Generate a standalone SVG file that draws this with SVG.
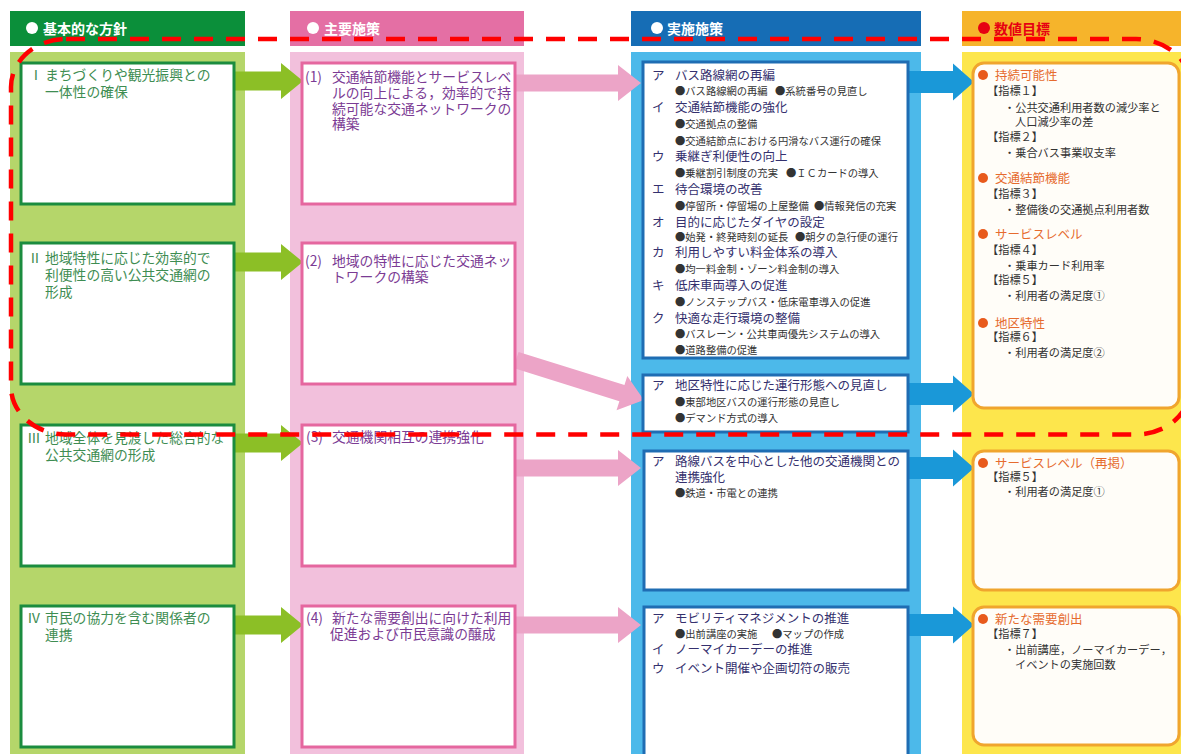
<svg xmlns="http://www.w3.org/2000/svg" width="1181" height="754" viewBox="0 0 1181 754">
<style>
text{font-family:"Noto Sans CJK JP","Noto Sans CJK SC",sans-serif}
.hd{font-size:14px;font-weight:bold;fill:#fff}
.gbox{fill:#fff;stroke:#1b8c3f;stroke-width:3}
.pbox{fill:#fff;stroke:#e5679f;stroke-width:3}
.bbox{fill:#fff;stroke:#1f6db3;stroke-width:3}
.ybox{fill:#fffdf8;stroke:#f0a52e;stroke-width:3}
.gt{font-size:13.8px;fill:#3e8d52}
.pt{font-size:13.8px;fill:#7b3b94}
.bt{font-size:12.5px;fill:#34306e}
.bs{font-size:10.3px;fill:#333}
.yt{font-size:11.2px;fill:#333}
.oh{font-size:12.5px;fill:#e66b2e}
.dot{fill:#e85a1c}
.ga{fill:#8cbf26}
.pa{fill:#eca4c7}
.ba{fill:#1a98d8}
</style>
<rect width="1181" height="754" fill="#fff"/>
<g id="col-headers">
<rect x="10" y="11" width="235" height="35" fill="#0b8f3a"/>
<circle cx="32" cy="28" r="6" fill="#fff"/>
<text class="hd" x="43" y="33.5">基本的な方針</text>
<rect x="290" y="11" width="234" height="35" fill="#e46fa4"/>
<circle cx="313" cy="28" r="6" fill="#fff"/>
<text class="hd" x="324" y="33.5">主要施策</text>
<rect x="631" y="11" width="290" height="35" fill="#166db5"/>
<circle cx="657" cy="28" r="6" fill="#fff"/>
<text class="hd" x="667" y="33.5">実施施策</text>
<rect x="962" y="11" width="219" height="35" fill="#f6b42b"/>
<circle cx="984" cy="28" r="6" fill="#e60012"/>
<text class="hd" x="994" y="33.5" style="fill:#e60012">数値目標</text>
</g>
<g id="col-bgs">
<rect x="10" y="52" width="235" height="702" fill="#b5d66a"/>
<rect x="290" y="52" width="234" height="702" fill="#f2c0dc"/>
<rect x="631" y="52" width="290" height="702" fill="#4cb9ea"/>
<rect x="962" y="52" width="219" height="702" fill="#fde64c"/>
</g>
<g id="connectors">
<polygon class="ga" points="234,71.5 281,71.5 281,63 303,81 281,99 281,90.5 234,90.5"/>
<polygon class="ga" points="234,252.5 281,252.5 281,244 303,262 281,280 281,271.5 234,271.5"/>
<polygon class="ga" points="234,433.5 281,433.5 281,425 303,443 281,461 281,452.5 234,452.5"/>
<polygon class="ga" points="234,615.5 281,615.5 281,607 303,625 281,643 281,634.5 234,634.5"/>
<polygon class="pa" points="515,74.5 618,74.5 618,65 641,83 618,101 618,91.5 515,91.5"/>
<polygon class="pa" points="515,459.5 618,459.5 618,450 641,468 618,486 618,476.5 515,476.5"/>
<polygon class="pa" points="515,616.5 618,616.5 618,607 641,625 618,643 618,633.5 515,633.5"/>
<polygon class="pa" transform="translate(516,360) rotate(17.4)" points="0,-8.5 111,-8.5 111,-18 134,0 111,18 111,8.5 0,8.5"/>
<polygon class="ba" points="908,71 953,71 953,63.5 974,82 953,100.5 953,93 908,93"/>
<polygon class="ba" points="908,383 953,383 953,375.5 974,394 953,412.5 953,405 908,405"/>
<polygon class="ba" points="908,457 953,457 953,449.5 974,468 953,486.5 953,479 908,479"/>
<polygon class="ba" points="908,614 953,614 953,606.5 974,625 953,643.5 953,636 908,636"/>
</g>
<g id="policy-1">
<rect class="gbox" x="21" y="63" width="213" height="141"/>
<text class="gt"><tspan x="29" y="80">Ⅰ</tspan><tspan x="45" y="80">まちづくりや観光振興との</tspan><tspan x="45" y="97">一体性の確保</tspan></text>
</g>
<g id="policy-2">
<rect class="gbox" x="21" y="243" width="213" height="141"/>
<text class="gt"><tspan x="28" y="263">Ⅱ</tspan><tspan x="45" y="263">地域特性に応じた効率的で</tspan><tspan x="45" y="280">利便性の高い公共交通網の</tspan><tspan x="45" y="297">形成</tspan></text>
</g>
<g id="policy-3">
<rect class="gbox" x="21" y="425" width="213" height="141"/>
<text class="gt"><tspan x="27" y="443">Ⅲ</tspan><tspan x="45" y="443">地域全体を見渡した総合的な</tspan><tspan x="45" y="460">公共交通網の形成</tspan></text>
</g>
<g id="policy-4">
<rect class="gbox" x="21" y="606" width="213" height="141"/>
<text class="gt"><tspan x="27" y="623">Ⅳ</tspan><tspan x="45" y="623">市民の協力を含む関係者の</tspan><tspan x="45" y="640">連携</tspan></text>
</g>
<g id="measure-1">
<rect class="pbox" x="302" y="63" width="213" height="141"/>
<text class="pt"><tspan x="305" y="82">(1)</tspan><tspan x="332" y="82">交通結節機能とサービスレベ</tspan><tspan x="332" y="98">ルの向上による，効率的で持</tspan><tspan x="332" y="113.5">続可能な交通ネットワークの</tspan><tspan x="332" y="129">構築</tspan></text>
</g>
<g id="measure-2">
<rect class="pbox" x="302" y="243" width="213" height="141"/>
<text class="pt"><tspan x="305" y="266">(2)</tspan><tspan x="332" y="266">地域の特性に応じた交通ネッ</tspan><tspan x="332" y="281.5">トワークの構築</tspan></text>
</g>
<g id="measure-3">
<rect class="pbox" x="302" y="425" width="213" height="141"/>
<text class="pt"><tspan x="306" y="442">(3)</tspan><tspan x="332" y="442">交通機関相互の連携強化</tspan></text>
</g>
<g id="measure-4">
<rect class="pbox" x="302" y="606" width="213" height="141"/>
<text class="pt"><tspan x="306" y="623">(4)</tspan><tspan x="332" y="623">新たな需要創出に向けた利用</tspan><tspan x="330" y="638.5">促進および市民意識の醸成</tspan></text>
</g>
<g id="action-1">
<rect class="bbox" x="643" y="62" width="265" height="296"/>
<text class="bt"><tspan x="652" y="80">ア</tspan><tspan x="675" y="80">バス路線網の再編</tspan><tspan class="bs" x="675" y="95">●バス路線網の再編</tspan><tspan class="bs" x="775" y="95">●系統番号の見直し</tspan><tspan x="652" y="112">イ</tspan><tspan x="675" y="112">交通結節機能の強化</tspan><tspan class="bs" x="675" y="128">●交通拠点の整備</tspan><tspan class="bs" x="675" y="144.5">●交通結節点における円滑なバス運行の確保</tspan><tspan x="652" y="161">ウ</tspan><tspan x="675" y="161">乗継ぎ利便性の向上</tspan><tspan class="bs" x="675" y="177">●乗継割引制度の充実</tspan><tspan class="bs" x="786" y="177">●ＩＣカードの導入</tspan><tspan x="652" y="193.5">エ</tspan><tspan x="675" y="193.5">待合環境の改善</tspan><tspan class="bs" x="675" y="209.5">●停留所・停留場の上屋整備</tspan><tspan class="bs" x="814" y="209.5">●情報発信の充実</tspan><tspan x="652" y="226.5">オ</tspan><tspan x="675" y="226.5">目的に応じたダイヤの設定</tspan><tspan class="bs" x="675" y="240.5">●始発・終発時刻の延長</tspan><tspan class="bs" x="795" y="240.5">●朝夕の急行便の運行</tspan><tspan x="652" y="257">カ</tspan><tspan x="675" y="257">利用しやすい料金体系の導入</tspan><tspan class="bs" x="675" y="273">●均一料金制・ゾーン料金制の導入</tspan><tspan x="652" y="290">キ</tspan><tspan x="675" y="290">低床車両導入の促進</tspan><tspan class="bs" x="675" y="305.5">●ノンステップバス・低床電車導入の促進</tspan><tspan x="652" y="322.5">ク</tspan><tspan x="675" y="322.5">快適な走行環境の整備</tspan><tspan class="bs" x="675" y="337.5">●バスレーン・公共車両優先システムの導入</tspan><tspan class="bs" x="675" y="353.5">●道路整備の促進</tspan></text>
</g>
<g id="action-2">
<rect class="bbox" x="643" y="375" width="265" height="57"/>
<text class="bt"><tspan x="652" y="390">ア</tspan><tspan x="675" y="390">地区特性に応じた運行形態への見直し</tspan><tspan class="bs" x="675" y="406">●東部地区バスの運行形態の見直し</tspan><tspan class="bs" x="675" y="422">●デマンド方式の導入</tspan></text>
</g>
<g id="action-3">
<rect class="bbox" x="644" y="451" width="264" height="139"/>
<text class="bt"><tspan x="652" y="466">ア</tspan><tspan x="675" y="466">路線バスを中心とした他の交通機関との</tspan><tspan x="675" y="482">連携強化</tspan><tspan class="bs" x="675" y="496.5">●鉄道・市電との連携</tspan></text>
</g>
<g id="action-4">
<rect class="bbox" x="644" y="607" width="264" height="155"/>
<text class="bt"><tspan x="652" y="623">ア</tspan><tspan x="675" y="623">モビリティマネジメントの推進</tspan><tspan class="bs" x="675" y="637.5">●出前講座の実施</tspan><tspan class="bs" x="772" y="637.5">●マップの作成</tspan><tspan x="652" y="654">イ</tspan><tspan x="675" y="654">ノーマイカーデーの推進</tspan><tspan x="652" y="673">ウ</tspan><tspan x="675" y="673">イベント開催や企画切符の販売</tspan></text>
</g>
<g id="target-1">
<rect class="ybox" x="973" y="63" width="206" height="345" rx="11"/>
<circle class="dot" cx="983" cy="75" r="5"/>
<circle class="dot" cx="983" cy="178" r="5"/>
<circle class="dot" cx="983" cy="234" r="5"/>
<circle class="dot" cx="983" cy="323" r="5"/>
<text class="yt"><tspan class="oh" x="995" y="79.5">持続可能性</tspan><tspan x="987" y="95">【指標１】</tspan><tspan x="1004" y="112">・公共交通利用者数の減少率と</tspan><tspan x="1015" y="125.5">人口減少率の差</tspan><tspan x="987" y="140.5">【指標２】</tspan><tspan x="1004" y="156.5">・乗合バス事業収支率</tspan><tspan class="oh" x="995" y="182.5">交通結節機能</tspan><tspan x="987" y="197.5">【指標３】</tspan><tspan x="1004" y="213.5">・整備後の交通拠点利用者数</tspan><tspan class="oh" x="995" y="238.5">サービスレベル</tspan><tspan x="987" y="253.5">【指標４】</tspan><tspan x="1004" y="269.5">・乗車カード利用率</tspan><tspan x="987" y="284">【指標５】</tspan><tspan x="1004" y="300">・利用者の満足度①</tspan><tspan class="oh" x="995" y="327.5">地区特性</tspan><tspan x="987" y="341">【指標６】</tspan><tspan x="1004" y="357">・利用者の満足度②</tspan></text>
</g>
<g id="target-2">
<rect class="ybox" x="973" y="451" width="206" height="139" rx="11"/>
<circle class="dot" cx="983" cy="463" r="5"/>
<text class="yt"><tspan class="oh" x="995" y="467.5">サービスレベル（再掲）</tspan><tspan x="987" y="481">【指標５】</tspan><tspan x="1004" y="496">・利用者の満足度①</tspan></text>
</g>
<g id="target-3">
<rect class="ybox" x="973" y="607" width="206" height="138" rx="11"/>
<circle class="dot" cx="983" cy="619" r="5"/>
<text class="yt"><tspan class="oh" x="995" y="623.5">新たな需要創出</tspan><tspan x="987" y="637.5">【指標７】</tspan><tspan x="1004" y="653.5">・出前講座，ノーマイカーデー，</tspan><tspan x="1015" y="668.5">イベントの実施回数</tspan></text>
</g>
<g id="highlight">
<rect x="11" y="39" width="1180" height="395.5" rx="55" ry="48" fill="none" stroke="#ff0000" stroke-width="4.5" stroke-dasharray="19 13"/>
</g>
</svg>
